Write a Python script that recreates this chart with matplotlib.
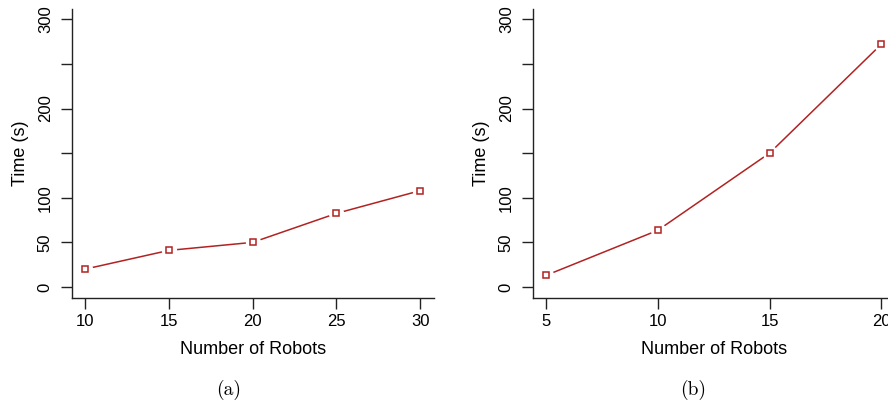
import matplotlib
matplotlib.use("Agg")
import matplotlib.pyplot as plt

# data
robots_a = [10, 15, 20, 25, 30]
time_a = [20, 41, 50, 82.5, 108]

robots_b = [5, 10, 15, 20]
time_b = [13, 63.5, 150, 272]

y_ticks = [0, 50, 100, 150, 200, 250, 300]
y_labels = ["0", "50", "100", "", "200", "", "300"]

RED = "#b22222"
plt.rcParams["font.family"] = ["Liberation Sans", "DejaVu Sans"]

W, H = 888, 403
AX_W = 362.1


def r_style_panel(ax, x, y, xticks):
    # gap between line and markers like R's type="b"
    ax.plot(x, y, color=RED, lw=1.1, zorder=2)
    ax.plot(x, y, ls="none", marker="o", ms=10, mfc="white", mec="white", zorder=3)
    ax.plot(x, y, ls="none", marker="s", ms=4.3, mfc="none", mec=RED, mew=1.1, zorder=4)

    pad_x = 0.04 * (xticks[-1] - xticks[0])
    ax.set_xlim(xticks[0] - pad_x, xticks[-1] + pad_x)
    ax.set_ylim(-12, 312)
    ax.set_xticks(xticks)
    ax.set_yticks(y_ticks)
    ax.set_yticklabels(y_labels, rotation=90, va="center")

    for side in ("top", "right"):
        ax.spines[side].set_visible(False)
    for side in ("left", "bottom"):
        ax.spines[side].set_linewidth(1.0)
        ax.spines[side].set_color("#222222")
    ax.tick_params(length=8, width=1.0, color="#222222", labelsize=12)
    ax.tick_params(axis="x", pad=3.5)
    ax.tick_params(axis="y", pad=5.5)
    ax.set_xlabel("Number of Robots", fontsize=13, va="center")
    ax.set_ylabel("Time (s)", fontsize=13, va="center")
    ax.xaxis.set_label_coords(0.5, -0.178)
    ax.yaxis.set_label_coords((20 - 71.6) / AX_W, 0.5)


fig = plt.figure(figsize=(W / 100, H / 100), dpi=100)
ax1 = fig.add_axes([71.6 / W, 0.2613, AX_W / W, 0.7174])
ax2 = fig.add_axes([532.6 / W, 0.2613, AX_W / W, 0.7174])

r_style_panel(ax1, robots_a, time_a, [10, 15, 20, 25, 30])
r_style_panel(ax2, robots_b, time_b, [5, 10, 15, 20])

fig.text(229 / W, 1 - 390 / H, "(a)", fontfamily="cmr10", fontsize=14,
         ha="center", va="center")
fig.text(693 / W, 1 - 390 / H, "(b)", fontfamily="cmr10", fontsize=14,
         ha="center", va="center")

fig.savefig("out.png", dpi=100)
